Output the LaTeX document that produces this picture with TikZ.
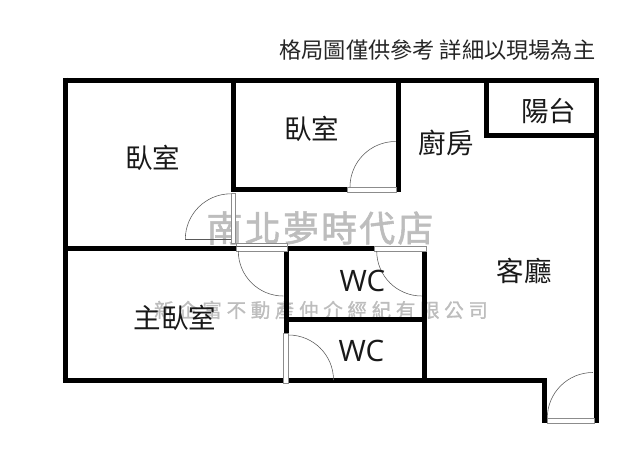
\documentclass[tikz,border=0pt]{standalone}
\usepackage{fontspec}
\setmainfont{Open Sans}
\newfontfamily\cjk{Noto Sans CJK TC}
\newfontfamily\cjkmark{Noto Sans CJK TC}[LetterSpace=6,FakeBold=1.5]
\newfontfamily\cjkmarksm{Noto Sans CJK TC}[LetterSpace=24,FakeBold=1]
\definecolor{mark}{gray}{0.74}
\tikzset{
  wall/.style={draw=black,line width=5pt,line cap=butt,line join=miter},
  win/.style={draw=black!45,line width=0.5pt,fill=white},
  swing/.style={draw=black!65,line width=0.55pt},
  room/.style={font=\cjk\fontsize{27.5}{28}\selectfont,inner sep=0pt,text=black!90},
  wc/.style={font=\fontsize{29.5}{30}\selectfont,inner sep=0pt,text=black!90},
  note/.style={font=\cjk\fontsize{22.2}{23}\selectfont,inner sep=0pt,text=black!85},
}
\begin{document}
\begin{tikzpicture}[x=1pt,y=-1pt]
\useasboundingbox (0,0) rectangle (640,469);
\fill[white] (0,0) rectangle (640,469);
% watermarks
\node[inner sep=0pt,text=mark,font=\cjkmark\fontsize{36}{36}\selectfont] (wm1) at (320,228) {南北夢時代店};
\node[inner sep=0pt,text=mark,font=\cjkmarksm\fontsize{19.5}{20}\selectfont] (wm2) at (321,310) {新企富不動產仲介經紀有限公司};
% walls
\draw[wall] (65,80) -- (596.5,80) -- (596.5,423);
\draw[wall] (65,77.5) -- (65,383);
\draw[wall] (62.5,380.5) -- (544.5,380.5) -- (544.5,423);
\draw[wall] (233.5,80) -- (233.5,192);
\draw[wall] (233.5,189.5) -- (347,189.5);
\draw[wall] (398,80) -- (398,192);
\draw[wall] (486.5,80) -- (486.5,135.5) -- (596.5,135.5);
\draw[wall] (65,248.5) -- (236,248.5);
\draw[wall] (286,248.5) -- (374,248.5);
\draw[wall] (424,248.5) -- (424,380.5);
\draw[wall] (286,248.5) -- (286,333);
\draw[wall] (286,319) -- (424,319);
% door openings
\draw[win] (347,187) rectangle (396,192);
\draw[win] (231,193) rectangle (235.5,243);
\draw[win] (236,243.5) rectangle (287,251);
\draw[swing] (236,246.5) -- (287,246.5);
\draw[win] (374,246) rectangle (426,251);
\draw[win] (283.5,333) rectangle (288.5,383);
\draw[win] (547,418) rectangle (594,423);
% door swings
\draw[swing] (185.3,239.3) -- (231,239.3);
\draw[swing] (185.3,239.3) arc[start angle=180,end angle=270,radius=45.5];
\draw[swing] (350,187) arc[start angle=180,end angle=270,radius=45.5];
\draw[swing] (238.3,251) arc[start angle=180,end angle=90,radius=45];
\draw[swing] (376.7,251) arc[start angle=180,end angle=90,radius=45];
\draw[swing] (288.5,335) arc[start angle=270,end angle=360,radius=45];
\draw[swing] (547.3,418) arc[start angle=180,end angle=270,radius=45.5];
% labels
\node[note,anchor=east] (n1) at (595.5,50) {格局圖僅供參考 詳細以現場為主};
\node[room] (r1) at (152.5,158) {臥室};
\node[room] (r2) at (311.5,129) {臥室};
\node[room] (r3) at (446,143) {廚房};
\node[room] (r4) at (548.5,111) {陽台};
\node[room] (r5) at (524,271) {客廳};
\node[room] (r6) at (175,318) {主臥室};
\node[wc] (w1) at (362.5,281) {WC};
\node[wc] (w2) at (361.5,351) {WC};
\end{tikzpicture}
\end{document}
